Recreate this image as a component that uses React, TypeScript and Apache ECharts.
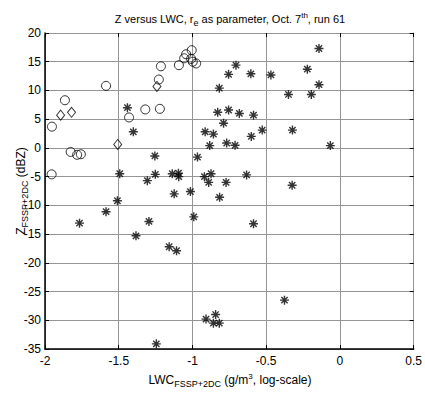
import React, { useEffect, useRef } from "react";
import * as echarts from "echarts";

// log10 LWC (x) and Z (y) values
const circleX = [-1.953, -1.865, -1.955, -1.826, -1.782, -1.757, -1.586, -1.43, -1.32, -1.221, -1.228, -1.214, -1.092, -1.056, -1.043, -1.005, -1.009, -0.998, -0.975];
const circleY = [3.7, 8.3, -4.6, -0.7, -1.2, -1.1, 10.8, 5.3, 6.7, 6.8, 11.9, 14.2, 14.4, 15.6, 16.3, 17.0, 15.5, 15.0, 14.7];

const diamondX = [-1.894, -1.82, -1.507, -1.241];
const diamondY = [5.7, 6.2, 0.6, 10.7];

const starX = [-1.441, -1.401, -1.493, -1.255, -1.252, -1.306, -1.137, -1.095, -1.093, -0.966, -0.919, -0.874, -0.89, -0.772, -1.124, -1.014, -0.816, -1.509, -1.586, -1.766, -1.295, -0.991, -1.383, -1.158, -1.108, -1.245, -0.908, -0.843, -0.858, -0.818, -0.633, -0.324, -0.586, -0.376, -0.914, -0.858, -0.883, -0.768, -0.711, -0.065, -0.829, -0.755, -0.682, -0.586, -0.789, -0.601, -0.527, -0.322, -0.818, -0.705, -0.755, -0.604, -0.468, -0.221, -0.142, -0.142, -0.349, -0.194];
const starY = [7.0, 2.8, -4.5, -1.4, -4.6, -5.7, -4.5, -4.4, -5.0, -1.6, -5.0, -4.5, -6.0, -6.0, -8.0, -7.6, -8.6, -9.2, -11.1, -13.1, -12.8, -12.0, -15.3, -17.2, -17.9, -34.1, -29.8, -29.0, -30.5, -30.5, -4.7, -6.5, -13.2, -26.5, 2.8, 2.4, 0.4, 0.85, 0.45, 0.4, 6.2, 6.6, 6.0, 5.7, 4.3, 2.0, 3.1, 3.1, 10.4, 14.4, 12.8, 12.9, 12.7, 13.7, 17.3, 11.0, 9.3, 9.3];

const xMin = -2, xMax = 0.5, xStep = 0.5;
const yMin = -35, yMax = 20, yStep = 5;

const FONT = "'Liberation Sans', Arial, sans-serif";
const ASTERISK = "path://M5,0L5,10M0,5L10,5M1.5,1.5L8.5,8.5M1.5,8.5L8.5,1.5";

const zip = (xs: number[], ys: number[]) => xs.map((x, i) => [x, ys[i]]);

export default function App() {
  const ref = useRef<HTMLDivElement>(null);
  useEffect(() => {
    if (!ref.current) return;
    const chart = echarts.init(ref.current, null, { renderer: "svg" });
    const tick = { show: true, inside: true, length: 4, lineStyle: { color: "#000", width: 1 } };
    const main = { fontFamily: FONT, fontSize: 12, fill: "#000" };
    const sub = { fontFamily: FONT, fontSize: 9, fill: "#000", padding: [7, 0, 0, 0] };
    const sup = { fontFamily: FONT, fontSize: 8, fill: "#000", padding: [0, 0, 7, 0] };
    chart.setOption({
      animation: false,
      backgroundColor: "#fff",
      grid: { left: 45, right: 9, top: 33, bottom: 45, containLabel: false },
      xAxis: [
        {
          type: "value", min: xMin, max: xMax, interval: xStep, position: "bottom",
          axisLine: { show: true, onZero: false, lineStyle: { color: "#000", width: 1.5 } },
          axisTick: tick,
          axisLabel: { fontFamily: FONT, fontSize: 12, color: "#000", margin: 6 },
          splitLine: { show: true, lineStyle: { color: "#959595", width: 1 } },
        },
        {
          type: "value", min: xMin, max: xMax, interval: xStep, position: "top",
          axisLine: { show: true, onZero: false, lineStyle: { color: "#959595", width: 1 } },
          axisTick: tick, axisLabel: { show: false }, splitLine: { show: false },
        },
      ],
      yAxis: [
        {
          type: "value", min: yMin, max: yMax, interval: yStep, position: "left",
          axisLine: { show: true, onZero: false, lineStyle: { color: "#000", width: 1.5 } },
          axisTick: tick,
          axisLabel: { fontFamily: FONT, fontSize: 12, color: "#000", margin: 4 },
          splitLine: { show: true, lineStyle: { color: "#959595", width: 1 } },
        },
        {
          type: "value", min: yMin, max: yMax, interval: yStep, position: "right",
          axisLine: { show: true, onZero: false, lineStyle: { color: "#959595", width: 1 } },
          axisTick: tick, axisLabel: { show: false }, splitLine: { show: false },
        },
      ],
      series: [
        {
          type: "scatter", name: "circles", xAxisIndex: 0, yAxisIndex: 0,
          data: zip(circleX, circleY), symbol: "circle", symbolSize: 9,
          itemStyle: { color: "rgba(0,0,0,0)", borderColor: "#000", borderWidth: 1 },
        },
        {
          type: "scatter", name: "diamonds", xAxisIndex: 0, yAxisIndex: 0,
          data: zip(diamondX, diamondY), symbol: "diamond", symbolSize: [8, 10],
          itemStyle: { color: "rgba(0,0,0,0)", borderColor: "#000", borderWidth: 1 },
        },
        {
          type: "scatter", name: "stars", xAxisIndex: 0, yAxisIndex: 0,
          data: zip(starX, starY), symbol: ASTERISK, symbolSize: 9,
          itemStyle: { color: "rgba(0,0,0,0)", borderColor: "#000", borderWidth: 1.4 },
        },
      ],
      graphic: [
        {
          type: "text", x: 230, y: 19,
          style: {
            text: "{a|Z versus LWC, r}{s|e}{a| as parameter, Oct. 7}{p|th}{a|, run 61}",
            align: "center", verticalAlign: "middle",
            rich: {
              a: { fontFamily: FONT, fontSize: 11, fill: "#000" },
              s: { fontFamily: FONT, fontSize: 9, fill: "#000", padding: [7, 0, 0, 0] },
              p: { fontFamily: FONT, fontSize: 8, fill: "#000", padding: [0, 0, 7, 0] },
            },
          },
        },
        {
          type: "text", x: 230, y: 380,
          style: {
            text: "{a|LWC}{s|FSSP+2DC}{a| (g/m}{p|3}{a|, log-scale)}",
            align: "center", verticalAlign: "middle",
            rich: { a: main, s: sub, p: sup },
          },
        },
        {
          type: "text", x: 21, y: 191, rotation: Math.PI / 2,
          style: {
            text: "{a|Z}{s|FSSP+2DC}{a| (dBZ)}",
            align: "center", verticalAlign: "middle",
            rich: { a: main, s: sub },
          },
        },
      ],
    });
    return () => chart.dispose();
  }, []);
  return <div ref={ref} style={{ width: 425, height: 394, position: "absolute", left: 0, top: 0 }} />;
}
